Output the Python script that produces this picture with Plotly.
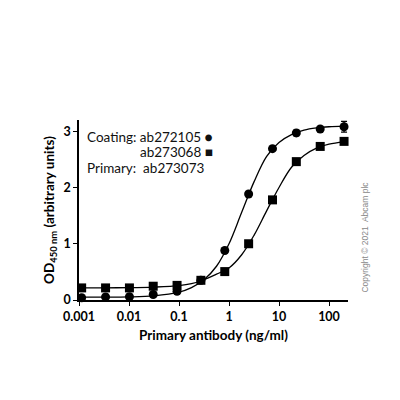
import numpy as np
import plotly.graph_objects as go

# Measured points (3-fold dilution series of primary antibody, ng/ml)
conc = [0.00113, 0.0034, 0.0102, 0.0305, 0.0914, 0.274, 0.823, 2.47, 7.41, 22.2, 66.7, 200]
od_coat1 = [0.04, 0.055, 0.057, 0.097, 0.156, 0.35, 0.88, 1.885, 2.69, 2.97, 3.04, 3.08]
od_coat1_err = [0, 0, 0, 0, 0, 0, 0, 0, 0, 0.05, 0.02, 0.095]
od_coat2 = [0.215, 0.215, 0.215, 0.245, 0.26, 0.35, 0.505, 1.0, 1.78, 2.46, 2.73, 2.82]
od_coat2_err = [0, 0, 0, 0, 0, 0, 0, 0, 0.03, 0, 0, 0]

# Fitted curves (log10 concentration grid)
fit_log = [-3, -2.5, -2, -1.5, -1, -0.75, -0.5, -0.25, 0, 0.25, 0.5, 0.75, 1, 1.25, 1.5, 1.75, 2, 2.3]
fit_coat1 = [0.05, 0.05, 0.055, 0.075, 0.14, 0.22, 0.36, 0.6, 1.0, 1.55, 2.1, 2.55, 2.8, 2.94, 3.02, 3.06, 3.08, 3.09]
fit_coat2 = [0.215, 0.217, 0.22, 0.23, 0.255, 0.29, 0.36, 0.46, 0.57, 0.8, 1.15, 1.58, 2.0, 2.36, 2.57, 2.7, 2.77, 2.81]
fit_x = [10 ** v for v in fit_log]

x_ticks = [0.001, 0.01, 0.1, 1, 10, 100]
x_tick_text = ["0.001", "0.01", "0.1", "1", "10", "100"]
y_ticks = [0, 1, 2, 3]

legend_lines = ["Coating: ab272105 \u25CF", "ab273068 \u25A0", "Primary:\u00A0 ab273073"]

FONT = "Lato"
fig = go.Figure()
for fy in (fit_coat1, fit_coat2):
    fig.add_trace(go.Scatter(x=fit_x, y=fy, mode="lines", line=dict(color="black", width=1.3, shape="spline"),
                             hoverinfo="skip", showlegend=False, cliponaxis=False))
fig.add_trace(go.Scatter(x=conc, y=od_coat1, mode="markers",
                         marker=dict(symbol="circle", size=9, color="black"),
                         error_y=dict(type="data", array=od_coat1_err, color="black", thickness=1.3, width=3),
                         showlegend=False, cliponaxis=False))
fig.add_trace(go.Scatter(x=conc, y=od_coat2, mode="markers",
                         marker=dict(symbol="square", size=9, color="black"),
                         error_y=dict(type="data", array=od_coat2_err, color="black", thickness=1.3, width=3),
                         showlegend=False, cliponaxis=False))

fig.update_layout(
    width=400, height=400,
    margin=dict(l=71, r=60, t=112, b=107.5, autoexpand=False),
    paper_bgcolor="white", plot_bgcolor="white",
    font=dict(family=FONT, color="black"),
    xaxis=dict(type="log", range=[-3, 2.38], tickvals=x_ticks, ticktext=x_tick_text, automargin=False,
               ticks="outside", ticklen=4, tickwidth=1.3, tickcolor="black",
               showline=True, linecolor="black", linewidth=1.5, showgrid=False, zeroline=False,
               tickfont=dict(family=FONT, size=12.5, weight="bold"),
               title=dict(text="<b>Primary antibody (ng/ml)</b>", font=dict(family=FONT, size=13.5), standoff=8)),
    yaxis=dict(range=[0, 3.2], tickvals=y_ticks, ticks="outside", ticklen=4, tickwidth=1.3, tickcolor="black",
               automargin=False,
               showline=True, linecolor="black", linewidth=1.5, showgrid=False, zeroline=False,
               tickfont=dict(family=FONT, size=12.5, weight="bold"),
               title=dict(text="<b>OD<sub>450 nm</sub> (arbitrary units)</b>", font=dict(family=FONT, size=13.5), standoff=6)),
)

fig.add_annotation(xref="paper", yref="paper", x=0.505, y=0.907, text=legend_lines[0], showarrow=False,
                   xanchor="right", yanchor="middle", font=dict(family=FONT, size=13.5, color="#111"))
fig.add_annotation(xref="paper", yref="paper", x=0.505, y=0.821, text=legend_lines[1], showarrow=False,
                   xanchor="right", yanchor="middle", font=dict(family=FONT, size=13.5, color="#111"))
fig.add_annotation(xref="paper", yref="paper", x=0.022, y=0.736, text=legend_lines[2], showarrow=False,
                   xanchor="left", yanchor="middle", font=dict(family=FONT, size=13.5, color="#111"))
fig.add_annotation(xref="paper", yref="paper", x=1.063, y=0.352, text="Copyright \u00A9 2021  Abcam plc",
                   showarrow=False, textangle=-90, xanchor="center", yanchor="middle",
                   font=dict(family="Liberation Sans", size=8.5, color="#888"))

fig.write_html("out.html")
